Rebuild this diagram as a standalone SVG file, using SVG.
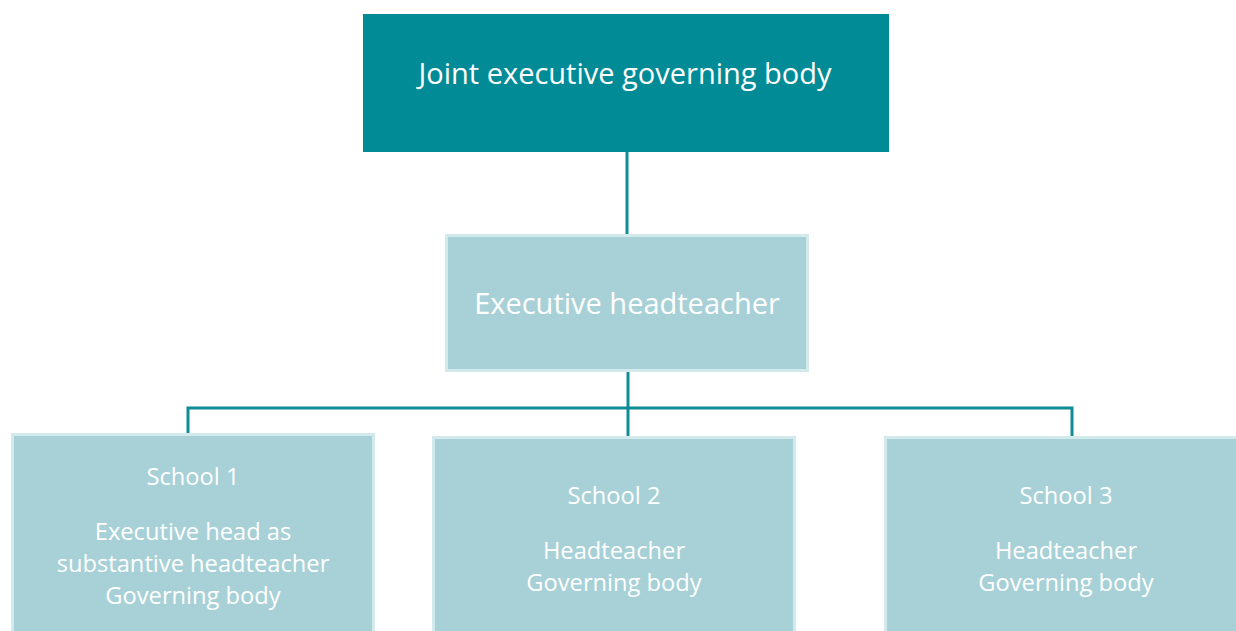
<svg xmlns="http://www.w3.org/2000/svg" width="1236" height="631" viewBox="0 0 1236 631">
<style>
.top{fill:#018b97}
.box{fill:#a7d1d7;stroke:#d3eaed;stroke-width:3}
.t{font-family:"Open Sans","Liberation Sans",sans-serif;fill:#ffffff;text-anchor:middle}
.big{font-size:29px}
.sm{font-size:23.7px}
.conn{stroke:#0f8c96;stroke-width:3;fill:none}
</style>
<rect width="1236" height="631" fill="#ffffff"/>
<g id="connectors">
<line class="conn" x1="627" y1="152" x2="627" y2="234"/>
<line class="conn" x1="628" y1="372" x2="628" y2="436"/>
<polyline class="conn" points="188,434 188,408 1072,408 1072,436"/>
</g>
<g id="joint">
<rect class="top" x="363" y="14" width="526" height="138"/>
<text class="t big" x="625" y="84">Joint executive governing body</text>
</g>
<g id="exec">
<rect class="box" x="446.5" y="235.5" width="361" height="135"/>
<text class="t big" x="627" y="314">Executive headteacher</text>
</g>
<g id="school1">
<rect class="box" x="12.5" y="434.5" width="361" height="200"/>
<text class="t sm" x="193" y="485">School 1</text>
<text class="t sm" x="193" y="540">Executive head as</text>
<text class="t sm" x="193" y="572">substantive headteacher</text>
<text class="t sm" x="193" y="604">Governing body</text>
</g>
<g id="school2">
<rect class="box" x="433.5" y="437.5" width="361" height="200"/>
<text class="t sm" x="614" y="504">School 2</text>
<text class="t sm" x="614" y="559">Headteacher</text>
<text class="t sm" x="614" y="591">Governing body</text>
</g>
<g id="school3">
<rect class="box" x="885.5" y="437.5" width="361" height="200"/>
<text class="t sm" x="1066" y="504">School 3</text>
<text class="t sm" x="1066" y="559">Headteacher</text>
<text class="t sm" x="1066" y="591">Governing body</text>
</g>
</svg>
